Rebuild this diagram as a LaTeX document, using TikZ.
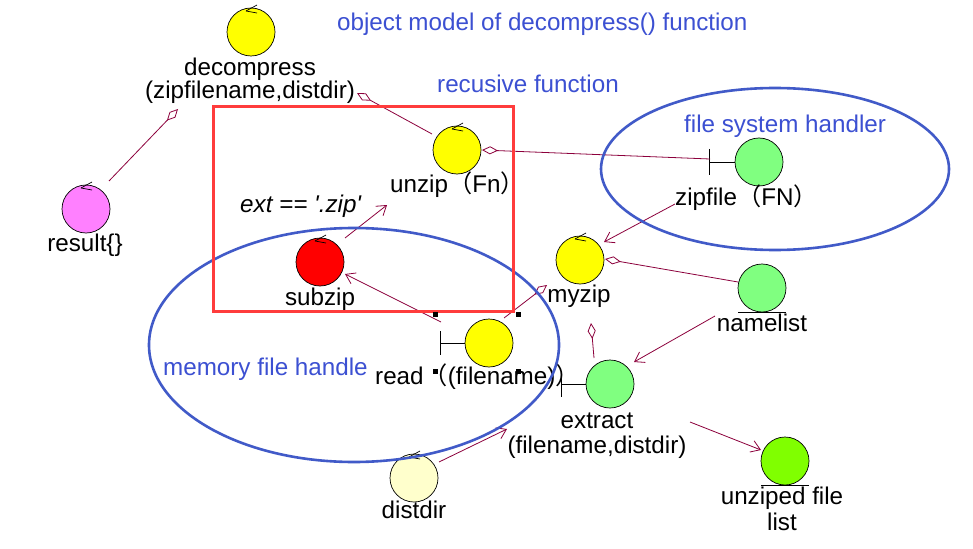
\documentclass[tikz,border=0pt]{standalone}
\usepackage{fontspec}
\setmainfont{Liberation Sans}
\newfontfamily\rawfont{Liberation Sans}
\newfontfamily\cjkfont{Noto Sans CJK SC}
\usetikzlibrary{arrows.meta}
\definecolor{conn}{RGB}{140,0,60}
\definecolor{blueT}{RGB}{60,80,210}
\definecolor{blueE}{RGB}{65,90,200}
\definecolor{redR}{RGB}{255,60,60}
\definecolor{objyellow}{RGB}{255,255,0}
\definecolor{objgreen}{RGB}{128,255,128}
\definecolor{objlime}{RGB}{128,255,0}
\definecolor{objpink}{RGB}{255,128,255}
\definecolor{objred}{RGB}{255,0,0}
\definecolor{objpale}{RGB}{255,255,204}
\tikzset{
  obj/.style={circle, draw=black, line width=0.7pt, minimum size=48pt, inner sep=0pt},
  lbl/.style={inner sep=0pt, font=\fontsize{24.2}{25}\selectfont},
  blu/.style={lbl, text=blueT, anchor=base west},
  conline/.style={draw=conn, line width=0.8pt},
  barb/.style={conline, -{Straight Barb[length=9pt,width=12pt]}},
  aggend/.style={conline, -{Diamond[open,length=16pt,width=8pt,fill=white]}},
  aggstart/.style={conline, {Diamond[open,length=16pt,width=8pt,fill=white]}-},
  iconline/.style={draw=black, line width=0.7pt},
  region/.style={draw=blueE, line width=2.6pt},
}
\begin{document}
\begin{tikzpicture}[x=1pt,y=-1pt]
\useasboundingbox (0,0) rectangle (973,548);
\fill[white] (0,0) rectangle (973,548);

% objects
\node[obj, fill=objyellow] (decompress) at (251,32) {};
\node[obj, fill=objpink] (result) at (86,209) {};
\node[obj, fill=objyellow] (unzip) at (457,150) {};
\node[obj, fill=objgreen] (zipfile) at (759,162) {};
\node[obj, fill=objred] (subzip) at (320,262) {};
\node[obj, fill=objyellow] (read) at (489,343) {};
\node[obj, fill=objyellow] (myzip) at (580,260) {};
\node[obj, fill=objgreen] (namelist) at (762,288) {};
\node[obj, fill=objgreen] (extract) at (610,384) {};
\node[obj, fill=objlime] (unziped) at (785,461) {};
\node[obj, fill=objpale] (distdir) at (414,478) {};

% control ticks
\foreach \n in {decompress,result,unzip,subzip,myzip,distdir}{
  \draw[iconline] ([shift={(-5,-21)}]\n.center) -- ++(11,-6);
  \draw[iconline] ([shift={(-5,-21)}]\n.center) -- ++(11,2);
}
% boundary bars
\draw[iconline] (read.west) -- ++(-24,0) ++(0,-12) -- ++(0,24);
\draw[iconline] (zipfile.west) -- ++(-25,0) coordinate (zipT) ++(0,-13) -- ++(0,26);
\draw[iconline] (extract.west) -- ++(-24,0) ++(0,-13) -- ++(0,26);
% entity underlines
\draw[iconline] ([xshift=-24pt]namelist.south) -- ([xshift=24pt]namelist.south);
\draw[iconline] ([xshift=-24pt]unziped.south) -- ([xshift=24pt]unziped.south);

% labels
\node[lbl, anchor=base] (decompress-l1) at (250,76) {decompress};
\node[lbl, anchor=base] (decompress-l2) at (250,99) {(zipfilename,distdir)};
\node[lbl, anchor=base] (result-l) at (85,251) {result\{\}};
\node[lbl, anchor=base west] (unzip-l) at (390,192) {unzip{\cjkfont （}Fn{\cjkfont ）}};
\node[lbl, anchor=base west] (zipfile-l) at (675,205) {zipfile{\cjkfont （}FN{\cjkfont ）}};
\node[lbl, anchor=base] (subzip-l) at (320,305) {subzip};
\node[lbl, anchor=base west] (ext-l) at (240,212) {\rawfont\itshape ext == '.zip'};
\node[lbl, anchor=base west] (read-l) at (375,384) {read{\cjkfont （}(filename){\cjkfont ）}};
\node[lbl, anchor=base] (myzip-l) at (579,302) {myzip};
\node[lbl, anchor=base] (namelist-l) at (762,331) {namelist};
\node[lbl, anchor=base] (extract-l1) at (597,428) {extract};
\node[lbl, anchor=base] (extract-l2) at (597,453) {(filename,distdir)};
\node[lbl, anchor=base] (unziped-l1) at (782,504) {unziped file};
\node[lbl, anchor=base] (unziped-l2) at (782,530) {list};
\node[lbl, anchor=base] (distdir-l) at (414,518) {distdir};

% blue captions
\node[blu] (title) at (337,31) {object model of decompress() function};
\node[blu] (recl) at (437,93) {recusive function};
\node[blu] (fsl) at (684,133) {file system handler};
\node[blu] (meml) at (163,375) {memory file handle};

% connector end points
\coordinate (c1a) at (109,181); \coordinate (c1b) at (178,109);
\coordinate (c2a) at (432,134); \coordinate (c2b) at (357,93);
\coordinate (c3a) at (482,150); \coordinate (c3b) at (710,159);
\coordinate (c4a) at (345,238); \coordinate (c4b) at (387,205);
\coordinate (c5a) at (441,322); \coordinate (c5b) at (345,274);
\coordinate (c6a) at (504,318); \coordinate (c6b) at (547,285);
\coordinate (c7a) at (675,204); \coordinate (c7b) at (604,242);
\coordinate (c8a) at (738,282); \coordinate (c8b) at (605,259);
\coordinate (c9a) at (594,358); \coordinate (c9b) at (591,323);
\coordinate (c10a) at (715,316); \coordinate (c10b) at (634,362);
\coordinate (c11a) at (690,422); \coordinate (c11b) at (761,450);
\coordinate (c12a) at (439,462); \coordinate (c12b) at (507,429);

\draw[aggend] (c1a) -- (c1b);
\draw[aggend] (c2a) -- (c2b);
\draw[aggstart] (c3a) -- (c3b);
\draw[barb] (c4a) -- (c4b);
\draw[barb] (c5a) -- (c5b);
\draw[aggend] (c6a) -- (c6b);
\draw[barb] (c7a) -- (c7b);
\draw[aggend] (c8a) -- (c8b);
\draw[aggend] (c9a) -- (c9b);
\draw[barb] (c10a) -- (c10b);
\draw[barb] (c11a) -- (c11b);
\draw[barb] (c12a) -- (c12b);

% regions
\draw[region] (775,169) ellipse [x radius=174, y radius=81];
\draw[region] (354,345) ellipse [x radius=205, y radius=117];
\draw[draw=redR, line width=3pt] (213,107) rectangle (513,311);

% selection handles
\foreach \p in {(435,314),(518,314),(435,371),(518,371)}{
  \fill[black] \p +(-2.5,-2.5) rectangle +(2.5,2.5);
}
\end{tikzpicture}
\end{document}
